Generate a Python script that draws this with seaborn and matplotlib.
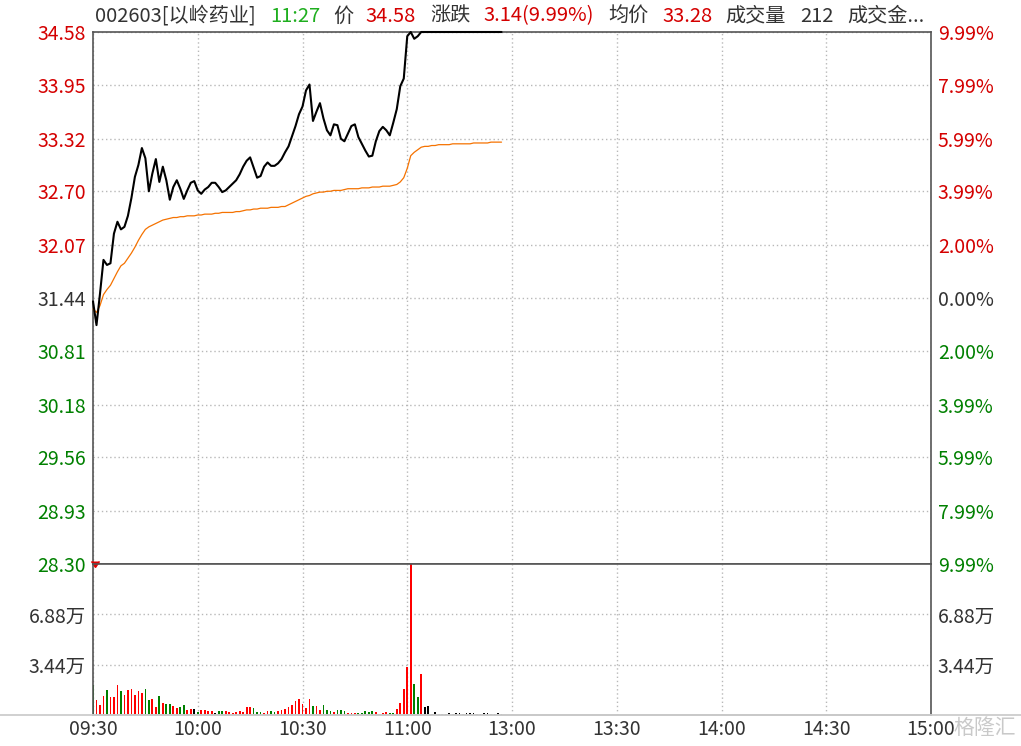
import matplotlib
matplotlib.use("Agg")
import matplotlib.pyplot as plt
from matplotlib.lines import Line2D
import seaborn as sns
import pandas as pd
import numpy as np

# ---------------- data ----------------
time_labels = ["09:30", "10:00", "10:30", "11:00", "13:00", "13:30", "14:00", "14:30", "15:00"]
price_ticks = [28.30, 28.93, 29.56, 30.18, 30.81, 31.44, 32.07, 32.70, 33.32, 33.95, 34.58]
price_tick_labels = ["28.30", "28.93", "29.56", "30.18", "30.81", "31.44", "32.07", "32.70", "33.32", "33.95", "34.58"]
pct_tick_labels = ["9.99%", "7.99%", "5.99%", "3.99%", "2.00%", "0.00%", "2.00%", "3.99%", "5.99%", "7.99%", "9.99%"]
vol_ticks = [3.44, 6.88]
vol_tick_labels = ["3.44万", "6.88万"]
pre_close = 31.44

price = [31.40, 31.12, 31.49, 31.89, 31.83, 31.85, 32.20, 32.34, 32.25, 32.28,
         32.41, 32.62, 32.87, 33.01, 33.21, 33.09, 32.70, 32.91, 33.08, 32.81,
         32.99, 32.83, 32.60, 32.75, 32.83, 32.73, 32.61, 32.71, 32.80, 32.82,
         32.71, 32.67, 32.72, 32.75, 32.80, 32.80, 32.75, 32.69, 32.71, 32.75,
         32.79, 32.83, 32.90, 32.99, 33.06, 33.10, 32.98, 32.86, 32.88, 32.99,
         33.04, 33.00, 33.00, 33.03, 33.08, 33.16, 33.23, 33.35, 33.47, 33.61,
         33.70, 33.89, 33.96, 33.53, 33.64, 33.74, 33.56, 33.42, 33.36, 33.49,
         33.48, 33.32, 33.29, 33.38, 33.47, 33.49, 33.34, 33.26, 33.18, 33.11,
         33.12, 33.29, 33.41, 33.46, 33.42, 33.36, 33.51, 33.67, 33.94, 34.03,
         34.53, 34.58, 34.50, 34.53, 34.58, 34.58, 34.58, 34.58, 34.58, 34.58,
         34.58, 34.58, 34.58, 34.58, 34.58, 34.58, 34.58, 34.58, 34.58, 34.58,
         34.58, 34.58, 34.58, 34.58, 34.58, 34.58, 34.58, 34.58]

avg_price = [31.31, 31.27, 31.35, 31.48, 31.54, 31.59, 31.67, 31.75, 31.82, 31.85,
             31.91, 31.97, 32.04, 32.12, 32.19, 32.25, 32.28, 32.30, 32.32, 32.34,
             32.36, 32.37, 32.38, 32.39, 32.39, 32.40, 32.40, 32.41, 32.41, 32.41,
             32.42, 32.42, 32.43, 32.43, 32.43, 32.44, 32.44, 32.45, 32.45, 32.45,
             32.45, 32.46, 32.46, 32.47, 32.48, 32.48, 32.49, 32.49, 32.50, 32.50,
             32.50, 32.51, 32.51, 32.51, 32.52, 32.52, 32.54, 32.56, 32.58, 32.60,
             32.62, 32.64, 32.65, 32.67, 32.68, 32.69, 32.69, 32.70, 32.70, 32.71,
             32.71, 32.71, 32.72, 32.73, 32.73, 32.73, 32.73, 32.74, 32.74, 32.74,
             32.75, 32.75, 32.75, 32.76, 32.76, 32.76, 32.77, 32.78, 32.81, 32.86,
             32.97, 33.12, 33.16, 33.19, 33.22, 33.23, 33.23, 33.24, 33.24, 33.25,
             33.25, 33.25, 33.25, 33.26, 33.26, 33.26, 33.26, 33.26, 33.26, 33.27,
             33.27, 33.27, 33.27, 33.27, 33.28, 33.28, 33.28, 33.28]

volume = [2.06, 1.03, 0.69, 1.31, 1.72, 1.24, 1.24, 2.06, 1.65, 1.38,
          1.72, 1.79, 1.38, 1.65, 1.51, 1.79, 1.03, 1.10, 0.55, 1.31,
          0.83, 0.76, 0.76, 0.62, 0.48, 0.55, 0.69, 0.34, 0.41, 0.41,
          0.23, 0.34, 0.34, 0.28, 0.28, 0.14, 0.28, 0.28, 0.28, 0.21,
          0.14, 0.21, 0.28, 0.21, 0.55, 0.55, 0.48, 0.21, 0.21, 0.14,
          0.28, 0.28, 0.21, 0.28, 0.34, 0.41, 0.55, 0.69, 0.96, 1.10,
          0.76, 0.48, 1.10, 0.62, 0.62, 0.34, 0.69, 0.34, 0.28, 0.21,
          0.34, 0.34, 0.28, 0.14, 0.14, 0.14, 0.14, 0.14, 0.28, 0.21,
          0.28, 0.21, 0.07, 0.14, 0.21, 0.14, 0.14, 0.41, 0.83, 1.79,
          3.30, 10.32, 2.13, 1.24, 2.82, 0.55, 0.62, 0.07, 0.21, 0.07,
          0.07, 0.07, 0.14, 0.07, 0.14, 0.14, 0.07, 0.14, 0.14, 0.14,
          0.07, 0.07, 0.14, 0.14, 0.07, 0.07, 0.14, 0.07]

vol_dir = list("grrrgrrrgr" "rrrrrggrrg" "rggrrggrrk" "grrrrkggrr"
               "rrrrrrgggr" "rggrrrrrrr" "rrrgrrgggr" "gggrrrgggg"
               "grrrrggrrr" "rrggrkkkkk" "kkkkkkkkkk" "kkkkkkkk")

minutes = list(range(len(price)))

# ---------------- style ----------------
sns.set_theme(style="white")
plt.rcParams["font.family"] = ["Noto Sans CJK SC", "DejaVu Sans"]

RED = "#d40000"
GREEN = "#008000"
DARK = "#333333"
GRID = "#b8b8b8"
SPINE = "#555555"
FS = 14

fig = plt.figure(figsize=(10.21, 7.46), dpi=100)
ax = fig.add_axes([93 / 1021, 182 / 746, 838 / 1021, 532 / 746])
ax2 = fig.add_axes([93 / 1021, 31 / 746, 838 / 1021, 151 / 746])

df = pd.DataFrame({"minute": minutes, "price": price, "avg": avg_price,
                   "vol": volume, "dir": vol_dir})

# price + average lines
sns.lineplot(data=df, x="minute", y="avg", ax=ax, color="#f57200", linewidth=0.9)
sns.lineplot(data=df, x="minute", y="price", ax=ax, color="black", linewidth=1.5)
for ln in ax.lines:
    ln.set_clip_on(False)
    ln.set_zorder(4)

ax.set_xlim(0, 240)
ax.set_ylim(price_ticks[0], price_ticks[-1])
xt = list(range(0, 241, 30))
ax.set_xticks(xt)
ax.set_xticklabels([])
ax.set_yticks(price_ticks)
ax.set_yticklabels(price_tick_labels)
ax.set_xlabel("")
ax.set_ylabel("")
ax.tick_params(axis="both", length=0, labelsize=FS, pad=5)
for lbl, v in zip(ax.get_yticklabels(), price_ticks):
    lbl.set_color(RED if v > pre_close + 1e-6 else (GREEN if v < pre_close - 1e-6 else DARK))
ax.grid(True, color=GRID, linestyle=(0, (1, 2)), linewidth=1)
for s in ["left", "right", "top", "bottom"]:
    ax.spines[s].set_color(SPINE)
    ax.spines[s].set_linewidth(1.2)

axr = ax.twinx()
axr.set_ylim(ax.get_ylim())
axr.set_yticks(price_ticks)
axr.set_yticklabels(pct_tick_labels)
axr.tick_params(axis="y", length=0, labelsize=FS, pad=5)
for lbl, v in zip(axr.get_yticklabels(), price_ticks):
    lbl.set_color(RED if v > pre_close + 1e-6 else (GREEN if v < pre_close - 1e-6 else DARK))
axr.grid(False)
axr.set_zorder(ax.get_zorder() - 1)
ax.patch.set_visible(False)
for s in ["left", "right", "top", "bottom"]:
    axr.spines[s].set_visible(False)

# volume bars
sns.barplot(data=df, x="minute", y="vol", hue="dir", ax=ax2, native_scale=True,
            palette={"r": "#ff0000", "g": "#008000", "k": "#000000"},
            dodge=False, width=0.5, errorbar=None, legend=False, linewidth=0,
            saturation=1)
ax2.plot([0.5], [10.1], marker=7, color="#dd0000", markersize=6, clip_on=False)
ax2.set_xlim(0, 240)
ax2.set_ylim(0, 10.32)
ax2.set_xticks(xt)
ax2.set_xticklabels(time_labels)
ax2.set_yticks(vol_ticks)
ax2.set_yticklabels(vol_tick_labels)
ax2.set_xlabel("")
ax2.set_ylabel("")
ax2.tick_params(axis="both", length=0, labelsize=FS, pad=5, colors=DARK)
ax2.tick_params(axis="x", pad=3)
ax2.grid(True, color=GRID, linestyle=(0, (1, 2)), linewidth=1)
for s in ["left", "right", "top"]:
    ax2.spines[s].set_color(SPINE)
    ax2.spines[s].set_linewidth(1.2)
ax2.spines["bottom"].set_color("#c8c8c8")

ax2r = ax2.twinx()
ax2r.set_ylim(ax2.get_ylim())
ax2r.set_yticks(vol_ticks)
ax2r.set_yticklabels(vol_tick_labels)
ax2r.tick_params(axis="y", length=0, labelsize=FS, pad=5, colors=DARK)
ax2r.grid(False)
for s in ["left", "right", "top", "bottom"]:
    ax2r.spines[s].set_visible(False)

# bottom full-width line
fig.add_artist(Line2D([0, 1], [31 / 746, 31 / 746], color="#c8c8c8", linewidth=1.2))

# header
hy = 1 - 16 / 746
header = [
    (95, "002603[以岭药业]", DARK),
    (270, "11:27", "#1fae1f"),
    (333, "价", DARK),
    (365, "34.58", RED),
    (430, "涨跌", DARK),
    (483, "3.14(9.99%)", RED),
    (608, "均价", DARK),
    (662, "33.28", RED),
    (725, "成交量", DARK),
    (800, "212", DARK),
    (847, "成交金...", DARK),
]
for x, t, c in header:
    fig.text(x / 1021, hy, t, color=c, fontsize=14.5, ha="left", va="center")

# watermark
fig.text(985 / 1021, 1 - 728 / 746, "格隆汇", color="#c4c4c4", fontsize=15,
         ha="center", va="center", alpha=0.9)

fig.savefig("out.png", dpi=100)
